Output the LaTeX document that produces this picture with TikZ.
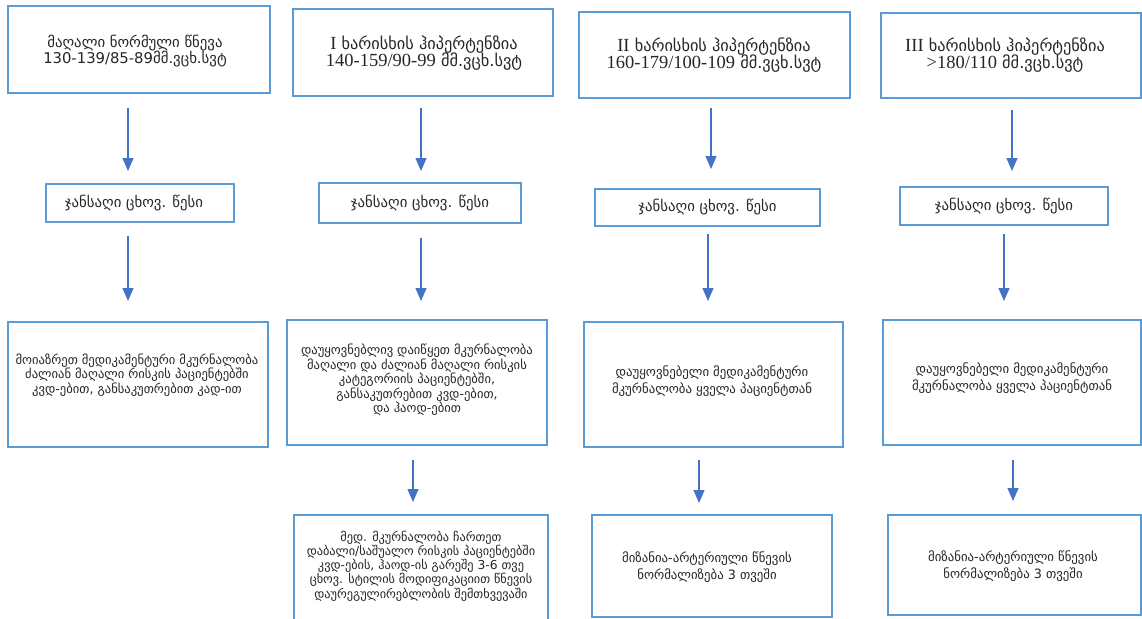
\documentclass[tikz,border=0pt]{standalone}
\usepackage{fontspec}
\setmainfont{DejaVu Sans}
\newfontfamily\lser{Liberation Serif}
\usetikzlibrary{arrows.meta}
\definecolor{boxblue}{RGB}{91,155,213}
\definecolor{arrblue}{RGB}{68,114,196}
\newcommand{\ls}[1]{{\lser\fontsize{18.5}{18}\selectfont #1}}
\begin{document}
\begin{tikzpicture}[x=1pt,y=-1pt,
  box/.style={draw=boxblue, line width=1.8pt, fill=white, inner sep=0pt},
  txt/.style={align=center, inner sep=0pt, text=black!85},
  toptxt/.style={txt, font=\fontsize{14.8}{16.8}\selectfont},
  sertxt/.style={txt, font=\fontsize{16.3}{17.5}\selectfont},
  midtxt/.style={txt, font=\fontsize{14.8}{16}\selectfont},
  lowtxt/.style={txt, font=\fontsize{12.6}{13.4}\selectfont},
  bottxt/.style={txt, font=\fontsize{12.3}{11.8}\selectfont},
  fintxt/.style={txt, font=\fontsize{12.8}{17}\selectfont},
  arr/.style={draw=arrblue, line width=1.2pt, -{Triangle[width=11pt,length=13pt]}}]
\useasboundingbox (0,0) rectangle (1142,618);
\clip (0,0) rectangle (1142,618);

% top row
\node[box, minimum width=262pt, minimum height=87pt] (b1) at (139,49.5) {};
\node[toptxt] (b1t) at (135,51) {მაღალი ნორმული წნევა\\130-139/85-89მმ.ვცხ.სვტ};
\node[box, minimum width=260pt, minimum height=87pt] (b2) at (423,52.5) {};
\node[sertxt] (b2t) at (424,53) {\ls{I} ხარისხის ჰიპერტენზია\\\ls{140-159/90-99} მმ.ვცხ.სვტ};
\node[box, minimum width=271pt, minimum height=86pt] (b3) at (714.5,55) {};
\node[sertxt] (b3t) at (714,55) {\ls{II} ხარისხის ჰიპერტენზია\\\ls{160-179/100-109} მმ.ვცხ.სვტ};
\node[box, minimum width=260pt, minimum height=85pt] (b4) at (1011,55.5) {};
\node[sertxt] (b4t) at (1005,55) {\ls{III} ხარისხის ჰიპერტენზია\\\ls{>180/110} მმ.ვცხ.სვტ};

% middle row
\node[box, minimum width=188pt, minimum height=38pt] (m1) at (140,203) {};
\node[midtxt] (m1t) at (134,203) {ჯანსაღი ცხოვ. წესი};
\node[box, minimum width=202pt, minimum height=40pt] (m2) at (420,203) {};
\node[midtxt] (m2t) at (420,203) {ჯანსაღი ცხოვ. წესი};
\node[box, minimum width=225pt, minimum height=37pt] (m3) at (707.5,207.5) {};
\node[midtxt] (m3t) at (707.5,207.5) {ჯანსაღი ცხოვ. წესი};
\node[box, minimum width=208pt, minimum height=38pt] (m4) at (1004,206) {};
\node[midtxt] (m4t) at (1004,206) {ჯანსაღი ცხოვ. წესი};

% third row
\node[box, minimum width=260pt, minimum height=125pt] (t1) at (138,384.5) {};
\node[lowtxt] (t1t) at (137,375) {მოიაზრეთ მედიკამენტური მკურნალობა\\ძალიან მაღალი რისკის პაციენტებში\\კვდ-ებით, განსაკუთრებით კად-ით};
\node[box, minimum width=260pt, minimum height=125pt] (t2) at (417,382.5) {};
\node[lowtxt] (t2t) at (417,380) {დაუყოვნებლივ დაიწყეთ მკურნალობა\\მაღალი და ძალიან მაღალი რისკის\\კატეგორიის პაციენტებში,\\განსაკუთრებით კვდ-ებით,\\და ჰაოდ-ებით};
\node[box, minimum width=259pt, minimum height=125pt] (t3) at (713.5,384.5) {};
\node[fintxt] (t3t) at (712,381) {დაუყოვნებელი მედიკამენტური\\მკურნალობა ყველა პაციენტთან};
\node[box, minimum width=258pt, minimum height=125pt] (t4) at (1012,382.5) {};
\node[fintxt] (t4t) at (1012,378) {დაუყოვნებელი მედიკამენტური\\მკურნალობა ყველა პაციენტთან};

% bottom row
\node[box, minimum width=254pt, minimum height=130pt] (f2) at (421,580) {};
\node[bottxt] (f2t) at (421,566) {მედ. მკურნალობა ჩართეთ\\დაბალი/საშუალო რისკის პაციენტებში\\კვდ-ების, ჰაოდ-ის გარეშე 3-6 თვე\\ცხოვ. სტილის მოდიფიკაციით წნევის\\დაურეგულირებლობის შემთხვევაში};
\node[box, minimum width=240pt, minimum height=102pt] (f3) at (712,566) {};
\node[fintxt] (f3t) at (707,567) {მიზანია-არტერიული წნევის\\ნორმალიზება 3 თვეში};
\node[box, minimum width=253pt, minimum height=100pt] (f4) at (1014.5,565) {};
\node[fintxt] (f4t) at (1013,566) {მიზანია-არტერიული წნევის\\ნორმალიზება 3 თვეში};

% arrows
\coordinate (a11s) at (128,108); \coordinate (a11e) at (128,171);
\coordinate (a12s) at (128,236); \coordinate (a12e) at (128,301);
\coordinate (a21s) at (421,108); \coordinate (a21e) at (421,171);
\coordinate (a22s) at (421,238); \coordinate (a22e) at (421,301);
\coordinate (a23s) at (413,460); \coordinate (a23e) at (413,502);
\coordinate (a31s) at (711,108); \coordinate (a31e) at (711,169);
\coordinate (a32s) at (708,234); \coordinate (a32e) at (708,301);
\coordinate (a33s) at (699,460); \coordinate (a33e) at (699,503);
\coordinate (a41s) at (1012,110); \coordinate (a41e) at (1012,171);
\coordinate (a42s) at (1004,234); \coordinate (a42e) at (1004,301);
\coordinate (a43s) at (1013,460); \coordinate (a43e) at (1013,501);
\foreach \a in {11,12,21,22,23,31,32,33,41,42,43}{
  \draw[arr] (a\a s) -- (a\a e);
}
\end{tikzpicture}
\end{document}
